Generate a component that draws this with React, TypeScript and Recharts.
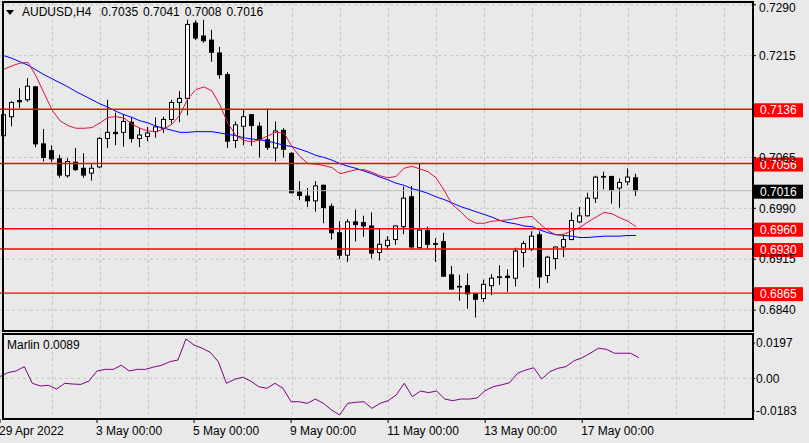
import { ComposedChart, LineChart, Bar, Line, XAxis, YAxis, CartesianGrid, ReferenceLine } from "recharts"

const FONT = "'Liberation Sans', Arial, sans-serif"
const BG = "#e9e9e9"
const GRID = "#c3c3c3"

// AUDUSD H4 bars, 29 Apr 2022 00:00 .. 18 May 2022 04:00
const opens = [
  0.7097, 0.7125, 0.7149, 0.715, 0.7169, 0.7085, 0.7075, 0.7063, 0.7038, 0.7058,
  0.7049, 0.7042, 0.7051, 0.7093, 0.7102, 0.7102, 0.7117, 0.7093, 0.7096, 0.7103,
  0.7108, 0.7121, 0.7146, 0.7152, 0.7263, 0.7244, 0.7238, 0.7219, 0.7187, 0.709,
  0.7111, 0.7128, 0.7111, 0.7091, 0.7079, 0.7105, 0.7071, 0.7014, 0.7008, 0.7001,
  0.7024, 0.6993, 0.6954, 0.6921, 0.697, 0.6969, 0.6964, 0.6925, 0.6935, 0.6944,
  0.6963, 0.7007, 0.6932, 0.6957, 0.6938, 0.6941, 0.6892, 0.6875, 0.6876, 0.6864,
  0.6857, 0.6876, 0.6889, 0.689, 0.6887, 0.6925, 0.693, 0.6951, 0.6891, 0.6916,
  0.6933, 0.6944, 0.697, 0.6979, 0.7005, 0.7036, 0.7037, 0.702, 0.7029, 0.7035,
]
const highs = [
  0.7135, 0.7148, 0.7167, 0.7182, 0.717, 0.7107, 0.7083, 0.7069, 0.7064, 0.7079,
  0.7071, 0.7055, 0.7095, 0.715, 0.7131, 0.7128, 0.7124, 0.7108, 0.711, 0.7124,
  0.7125, 0.715, 0.7163, 0.7268, 0.7267, 0.7268, 0.7253, 0.7228, 0.7191, 0.7118,
  0.7136, 0.7129, 0.7117, 0.7137, 0.7118, 0.7108, 0.7073, 0.703, 0.702, 0.703,
  0.7025, 0.6997, 0.6971, 0.6974, 0.6988, 0.6979, 0.6984, 0.696, 0.6949, 0.6965,
  0.7022, 0.7023, 0.7056, 0.6963, 0.6946, 0.6954, 0.6905, 0.6892, 0.6894, 0.6865,
  0.6885, 0.6893, 0.6906, 0.69, 0.6932, 0.6942, 0.6956, 0.6956, 0.692, 0.6934,
  0.6951, 0.6984, 0.6992, 0.7013, 0.7038, 0.7044, 0.7038, 0.7034, 0.7049, 0.7041,
]
const lows = [
  0.7092, 0.7111, 0.7138, 0.7147, 0.708, 0.7059, 0.7058, 0.7035, 0.7035, 0.7045,
  0.7035, 0.7031, 0.7049, 0.7079, 0.7083, 0.7081, 0.7087, 0.708, 0.7089, 0.7094,
  0.7101, 0.7115, 0.7117, 0.7127, 0.7238, 0.7234, 0.7206, 0.7181, 0.7079, 0.7079,
  0.7083, 0.7082, 0.7065, 0.7076, 0.7059, 0.7065, 0.7012, 0.7002, 0.6992, 0.6985,
  0.6968, 0.6944, 0.6915, 0.6911, 0.6941, 0.6948, 0.6916, 0.6913, 0.693, 0.6936,
  0.6952, 0.693, 0.6931, 0.693, 0.6911, 0.6889, 0.687, 0.6854, 0.6842, 0.6829,
  0.6852, 0.6862, 0.6877, 0.6867, 0.6875, 0.6903, 0.6927, 0.6872, 0.688, 0.69,
  0.6918, 0.6943, 0.6968, 0.6978, 0.6998, 0.7018, 0.6997, 0.6991, 0.7024, 0.7008,
]
const closes = [
  0.7128, 0.7146, 0.7147, 0.717, 0.7085, 0.7065, 0.7063, 0.7039, 0.7059, 0.7047,
  0.7039, 0.7049, 0.7093, 0.7102, 0.71, 0.7118, 0.7093, 0.7098, 0.7101, 0.711,
  0.7121, 0.7146, 0.7152, 0.7261, 0.7241, 0.7237, 0.722, 0.7187, 0.7089, 0.7113,
  0.7125, 0.7112, 0.7091, 0.708, 0.7104, 0.7077, 0.7013, 0.7009, 0.7001, 0.7023,
  0.6991, 0.6954, 0.6921, 0.697, 0.6966, 0.6964, 0.6924, 0.6937, 0.6943, 0.6964,
  0.7005, 0.6933, 0.6958, 0.6937, 0.6937, 0.689, 0.6871, 0.6874, 0.6864, 0.6856,
  0.6878, 0.6887, 0.6888, 0.6888, 0.6927, 0.6938, 0.6949, 0.6889, 0.6918, 0.6933,
  0.6944, 0.6972, 0.6979, 0.7005, 0.7036, 0.7037, 0.7017, 0.7028, 0.7036, 0.7016,
]
// moving averages drawn on the price panel
const fastMa = [
  0.7195, 0.72, 0.7204, 0.7205, 0.7185, 0.716, 0.7135, 0.7119, 0.7112, 0.7108,
  0.7108, 0.7109, 0.7116, 0.7124, 0.7125, 0.7123, 0.7114, 0.7108, 0.7104, 0.7103,
  0.7107, 0.7114, 0.7128, 0.7152, 0.7165, 0.7169, 0.7163, 0.7142, 0.7115, 0.7097,
  0.709, 0.7088, 0.7091, 0.7097, 0.7102, 0.7101, 0.7081, 0.7066, 0.7056, 0.7055,
  0.7053, 0.705, 0.7041, 0.7044, 0.7047, 0.7047, 0.7043, 0.7038, 0.7035, 0.7037,
  0.7049, 0.7052, 0.7048, 0.7044, 0.7035, 0.7017, 0.6996, 0.6986, 0.6974, 0.6968,
  0.6968, 0.6971, 0.6972, 0.6973, 0.6975, 0.6977, 0.6978, 0.6967, 0.6957, 0.6951,
  0.6952, 0.6957, 0.6962, 0.697, 0.6977, 0.6984, 0.6982, 0.6976, 0.6971, 0.6963,
]
const slowMa = [
  0.7215, 0.7211, 0.7206, 0.7201, 0.7194, 0.7187, 0.7181, 0.7175, 0.7169, 0.7162,
  0.7156, 0.715, 0.7144, 0.7139, 0.7133, 0.7128, 0.7124, 0.7119, 0.7116, 0.7111,
  0.7108, 0.7105, 0.7102, 0.7102, 0.7103, 0.7103, 0.7103, 0.7101, 0.7099, 0.7097,
  0.7094, 0.7092, 0.7091, 0.7089, 0.7086, 0.7083, 0.7081, 0.7077, 0.7073, 0.7068,
  0.7065, 0.7061, 0.7056, 0.7052, 0.7049, 0.7045, 0.7041, 0.7036, 0.7032, 0.7027,
  0.7024, 0.7019, 0.7016, 0.7012, 0.7007, 0.7003, 0.6998, 0.6993, 0.6989, 0.6985,
  0.6981, 0.6977, 0.6972, 0.6969, 0.6967, 0.6964, 0.6963, 0.6958, 0.6954, 0.6951,
  0.695, 0.6949, 0.6947, 0.6947, 0.6948, 0.6949, 0.6949, 0.6949, 0.695, 0.695,
]
const marlin = [
  0.001, 0.0032, 0.0041, 0.0065, -0.0028, -0.0043, -0.0039, -0.006, -0.0028, -0.0032,
  -0.0034, -0.0015, 0.0041, 0.005, 0.005, 0.0073, 0.0041, 0.005, 0.005, 0.0063,
  0.0073, 0.0093, 0.0102, 0.022, 0.0186, 0.0168, 0.0145, 0.0093, -0.0028, -0.0006,
  0.0006, -0.0015, -0.0047, -0.0056, -0.0028, -0.0056, -0.0131, -0.0131, -0.014, -0.0116,
  -0.014, -0.0177, -0.0205, -0.014, -0.0134, -0.0131, -0.0168, -0.014, -0.0125, -0.0093,
  -0.0028, -0.0103, -0.0071, -0.008, -0.0071, -0.0116, -0.0125, -0.0116, -0.0116, -0.011,
  -0.0069, -0.0047, -0.0037, -0.0025, 0.0028, 0.0046, 0.0059, -0.0004, 0.0037, 0.0056,
  0.0065, 0.0098, 0.0115, 0.014, 0.0168, 0.0162, 0.014, 0.014, 0.014, 0.0115,
]

const levels = [0.7136, 0.7056, 0.696, 0.693, 0.6865]
const lastPrice = 0.7016
const priceTicks = [0.684, 0.6915, 0.699, 0.7065, 0.7215, 0.729]
const marlinTicks = [-0.0183, 0, 0.0197]
const timeTicks = [0, 12, 24, 36, 48, 60, 72]
const timeLabels = ["29 Apr 2022", "3 May 00:00", "5 May 00:00", "9 May 00:00", "11 May 00:00", "13 May 00:00", "17 May 00:00"]
const dayStarts = [6, 12, 18, 24, 30, 36, 42, 48, 54, 60, 66, 72, 78, 84, 90]
const header = ["AUDUSD,H4", "0.7035", "0.7041", "0.7008", "0.7016"]

const slots = 94
const data = Array.from({ length: slots }, (_, i) => ({
  i,
  o: i < opens.length ? opens[i] : null,
  h: i < opens.length ? highs[i] : null,
  l: i < opens.length ? lows[i] : null,
  c: i < opens.length ? closes[i] : null,
  fast: i < fastMa.length ? fastMa[i] : null,
  slow: i < slowMa.length ? slowMa[i] : null,
  marlin: i < marlin.length ? marlin[i] : null,
}))

// vertical grid at each day's 00:00 bar, placed through the x scale
const dayGrid = (props: any) => {
  const { xAxis, offset } = props
  if (xAxis && typeof xAxis.scale === "function") {
    const bw = typeof xAxis.scale.bandwidth === "function" ? xAxis.scale.bandwidth() : 0
    return dayStarts.map((d) => Math.floor(xAxis.scale(d) + bw / 2) + 0.5)
  }
  return dayStarts.map((d) => Math.floor(offset.left + ((d + 0.5) * offset.width) / slots) + 0.5)
}

function Candle(props: any) {
  const { x, y, width, height, payload } = props
  if (!payload || payload.o == null) return null
  const { o, h, l, c } = payload
  const k = h > l ? height / (h - l) : 0
  const cx = Math.floor(x + width / 2) + 0.5
  const yo = y + (h - o) * k
  const yc = y + (h - c) * k
  const top = Math.min(yo, yc)
  const bot = Math.max(yo, yc)
  return (
    <g>
      <line x1={cx} x2={cx} y1={y} y2={y + height} stroke="#000" />
      <rect x={cx - 2} y={top} width={4} height={Math.max(bot - top, 0.3)} fill={c >= o ? "#fff" : "#000"} stroke="#000" />
    </g>
  )
}

function PriceTag(props: any) {
  const { viewBox, price, bg } = props
  if (!viewBox) return null
  const left = viewBox.x + viewBox.width + 2
  return (
    <g>
      <rect x={left} y={viewBox.y - 6} width={49} height={14} fill={bg} />
      <text x={left + 6} y={viewBox.y + 5} fontSize={12} fontFamily={FONT} fill="#fff">
        {price.toFixed(4)}
      </text>
    </g>
  )
}

function TimeTick(props: any) {
  const { x, y, payload } = props
  const k = timeTicks.indexOf(payload.value)
  return (
    <text x={x - 1} y={y + 9.5} fontSize={12} fontFamily={FONT} fill="#000" textAnchor="start">
      {timeLabels[k]}
    </text>
  )
}

const axisTick = { fill: "#000", fontSize: 12, fontFamily: FONT }

export default function App() {
  return (
    <div style={{ position: "relative", width: 809, height: 443, background: BG, fontFamily: FONT }}>
      <style>{`body{margin:0;background:${BG}}`}</style>

      <div style={{ position: "absolute", left: 0, top: 0 }}>
        <ComposedChart width={809} height={333} data={data} margin={{ top: 2, right: 0, bottom: 2, left: 0 }}>
          <CartesianGrid stroke={GRID} strokeDasharray="3 3" verticalCoordinatesGenerator={dayGrid} />
          <XAxis dataKey="i" hide />
          <YAxis
            orientation="right"
            width={57}
            domain={[0.68092, 0.72941]}
            allowDataOverflow
            ticks={priceTicks}
            tickFormatter={(v: number) => v.toFixed(4)}
            tick={axisTick}
            tickSize={4}
            tickMargin={3}
            tickLine={{ stroke: "#000" }}
            axisLine={false}
          />
          <ReferenceLine y={lastPrice} stroke="#bcbcbc" label={<PriceTag price={lastPrice} bg="#000" />} />
          <Bar dataKey={(d: any) => (d.o == null ? null : [d.l, d.h])} shape={<Candle />} isAnimationActive={false} />
          <Line type="linear" dataKey="slow" stroke="#0000ff" strokeWidth={1} dot={false} isAnimationActive={false} />
          <Line type="linear" dataKey="fast" stroke="#dc143c" strokeWidth={1} dot={false} isAnimationActive={false} />
          {levels.map((v) => (
            <ReferenceLine key={"l" + v} y={v} stroke="#ff0000" strokeWidth={1.4} label={<PriceTag price={v} bg="#ff0000" />} />
          ))}
        </ComposedChart>
      </div>

      <div style={{ position: "absolute", left: 0, top: 333 }}>
        <LineChart width={809} height={110} data={data} margin={{ top: 1, right: 0, bottom: 0, left: 0 }}>
          <CartesianGrid horizontal={false} stroke={GRID} strokeDasharray="3 3" verticalCoordinatesGenerator={dayGrid} />
          <XAxis
            dataKey="i"
            ticks={timeTicks}
            interval={0}
            tick={<TimeTick />}
            tickSize={4}
            tickLine={{ stroke: "#000" }}
            axisLine={false}
            height={24}
          />
          <YAxis
            orientation="right"
            width={57}
            domain={[-0.02275, 0.02476]}
            allowDataOverflow
            ticks={marlinTicks}
            tickFormatter={(v: number) => (v === 0 ? "0.00" : v.toFixed(4))}
            tick={axisTick}
            tickSize={3}
            tickMargin={1}
            tickLine={{ stroke: "#000" }}
            axisLine={false}
          />
          <ReferenceLine y={0} stroke={GRID} strokeDasharray="3 3" />
          <Line type="linear" dataKey="marlin" stroke="#800080" strokeWidth={1} dot={false} isAnimationActive={false} />
        </LineChart>
      </div>

      <div style={{ position: "absolute", left: 2, top: 1, width: 752, height: 331, boxSizing: "border-box", border: "2px solid #000", pointerEvents: "none" }} />
      <div style={{ position: "absolute", left: 2, top: 333, width: 752, height: 87, boxSizing: "border-box", border: "2px solid #000", pointerEvents: "none" }} />

      <div style={{ position: "absolute", left: 6, top: 10, width: 0, height: 0, borderLeft: "4.5px solid transparent", borderRight: "4.5px solid transparent", borderTop: "5px solid #000" }} />
      <div style={{ position: "absolute", left: 22, top: 6, fontSize: 12, lineHeight: "12px", color: "#000", whiteSpace: "nowrap" }}>
        {header.map((t, k) => (
          <span key={t + k} style={{ marginLeft: k === 0 ? 0 : k === 1 ? 10 : 5 }}>{t}</span>
        ))}
      </div>
      <div style={{ position: "absolute", left: 7, top: 339, fontSize: 12, lineHeight: "12px", color: "#000" }}>Marlin 0.0089</div>
    </div>
  )
}
